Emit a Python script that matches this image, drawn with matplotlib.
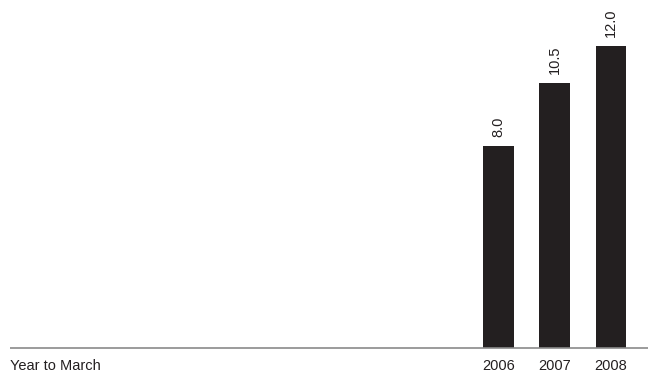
import matplotlib.pyplot as plt

plt.rcParams["font.family"] = ["Liberation Sans", "DejaVu Sans"]

# ---- Data ----
years = ["2006", "2007", "2008"]
values = [8.0, 10.5, 12.0]
value_labels = ["8.0", "10.5", "12.0"]
axis_note = "Year to March"

INK = "#231f20"
RULE = "#8a8a8a"


def main():
    fig = plt.figure(figsize=(6.5, 3.76), dpi=100)
    ax = fig.add_axes([0, 0, 1, 1])
    ax.set_xlim(-8.862, 2.693)
    ax.set_ylim(-1.111, 13.81)
    ax.axis("off")

    x = list(range(len(years)))
    ax.bar(x, values, width=0.55, color=INK, zorder=2)

    # baseline rule
    ax.hlines(0, -8.68, 2.66, color=RULE, linewidth=1.2, zorder=3)

    for xi, v, lab in zip(x, values, value_labels):
        ax.annotate(lab, (xi, v), xytext=(0, 6.5), textcoords="offset points",
                    rotation=90, ha="center", va="bottom", fontsize=10.5, color=INK)

    for xi, yr in zip(x, years):
        ax.text(xi, -0.70, yr, ha="center", va="center", fontsize=10.5, color=INK)

    ax.text(-8.68, -0.70, axis_note, ha="left", va="center", fontsize=10.5, color=INK)

    fig.savefig("out.png", dpi=100)
    plt.close(fig)


if __name__ == "__main__":
    main()
